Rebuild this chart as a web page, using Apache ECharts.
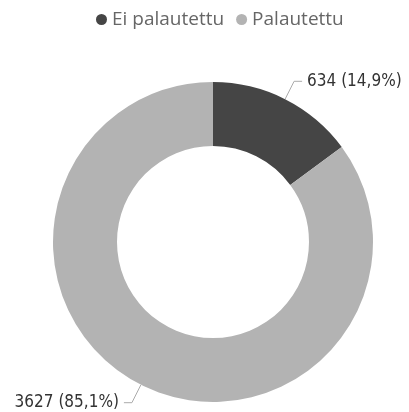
<!DOCTYPE html>
<html>
<head>
<meta charset="utf-8">
<script src="https://cdn.jsdelivr.net/npm/echarts@6/dist/echarts.min.js"></script>
<style>
  html, body { margin: 0; padding: 0; background: #fff; }
  #main { width: 409px; height: 412px; }
</style>
</head>
<body>
<div id="main"></div>
<script>
// data
const categories = ['Ei palautettu', 'Palautettu']
const values = [634, 3627]
const colors = ['#454545', '#b3b3b3']

const myChart = echarts.init(document.getElementById('main'))

const option = {
  color: colors,
  legend: {
    top: 5,
    left: 91,
    icon: 'circle',
    itemWidth: 11,
    itemHeight: 11,
    itemGap: 12,
    textStyle: {
      fontFamily: 'Open Sans',
      fontSize: 19,
      color: '#666'
    },
    data: categories
  },
  series: [
    {
      type: 'pie',
      center: [213, 242],
      radius: [96, 160],
      startAngle: 90,
      clockwise: true,
      avoidLabelOverlap: false,
      label: {
        show: true,
        position: 'outside',
        fontFamily: 'Liberation Sans Narrow, DejaVu Sans Condensed, sans-serif',
        fontSize: 17,
        color: '#333',
        formatter: function (p) {
          return p.value + ' (' + p.percent.toFixed(1).replace('.', ',') + '%)'
        }
      },
      labelLine: {
        show: true,
        length: 20,
        length2: 8,
        lineStyle: { color: '#aaa', width: 1 }
      },
      emphasis: { disabled: true },
      data: categories.map((name, i) => ({ name: name, value: values[i] }))
    }
  ]
}
myChart.setOption(option)
</script>
</body>
</html>
